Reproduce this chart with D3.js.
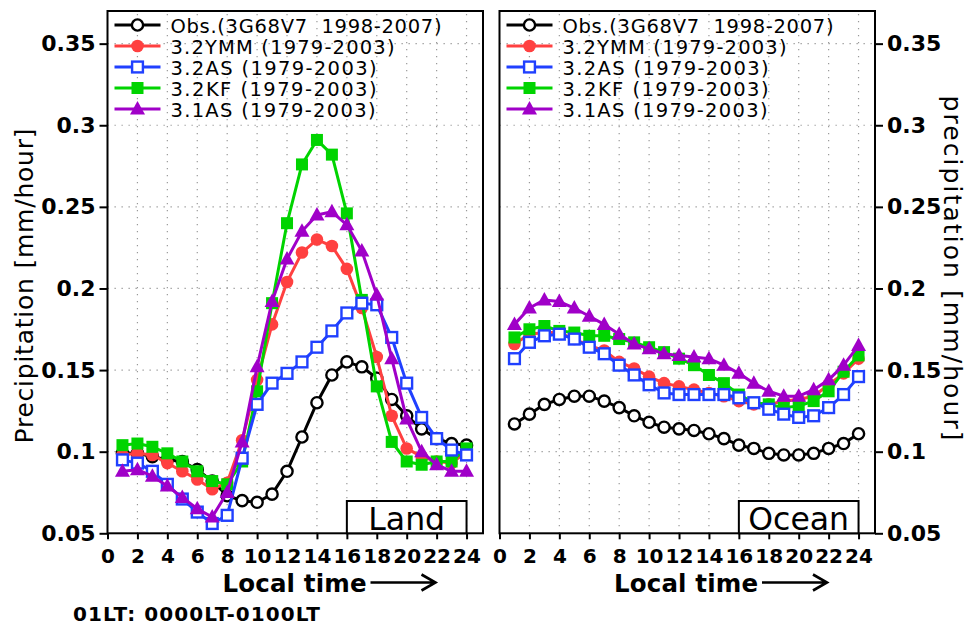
<!DOCTYPE html>
<html><head><meta charset="utf-8">
<script src="https://cdn.jsdelivr.net/npm/d3@7"></script>
<style>body{margin:0;background:#fff}svg{display:block}</style>
</head><body>
<svg id="c" width="969" height="626"></svg>
<script>
// ---------- data ----------
const hours = [1,2,3,4,5,6,7,8,9,10,11,12,13,14,15,16,17,18,19,20,21,22,23,24];
const xTicks = [0,2,4,6,8,10,12,14,16,18,20,22,24];
const yTicks = [0.05,0.1,0.15,0.2,0.25,0.3,0.35];
const yTickLabels = ["0.05","0.1","0.15","0.2","0.25","0.3","0.35"];
const seriesNames = ["Obs.(3G68V7  1998-2007)","3.2YMM (1979-2003)","3.2AS (1979-2003)","3.2KF (1979-2003)","3.1AS (1979-2003)"];
const panelNames = ["Land","Ocean"];

const landObs   = [0.099,0.099,0.097,0.095,0.094,0.089,0.082,0.073,0.070,0.069,0.074,0.088,0.109,0.130,0.147,0.155,0.152,0.145,0.132,0.122,0.114,0.108,0.105,0.104];
const landYMM   = [0.098,0.099,0.098,0.093,0.088,0.083,0.077,0.081,0.107,0.144,0.178,0.204,0.222,0.230,0.226,0.212,0.188,0.158,0.122,0.102,0.097,0.094,0.093,0.100];
const land32AS  = [0.095,0.093,0.088,0.080,0.071,0.063,0.056,0.061,0.096,0.129,0.142,0.148,0.155,0.164,0.174,0.185,0.191,0.190,0.170,0.142,0.121,0.108,0.101,0.098];
const land32KF  = [0.104,0.105,0.103,0.099,0.094,0.088,0.082,0.080,0.094,0.137,0.191,0.240,0.276,0.291,0.282,0.246,0.193,0.140,0.106,0.094,0.092,0.094,0.094,0.102];
const land31AS  = [0.088,0.089,0.085,0.079,0.072,0.065,0.060,0.075,0.106,0.152,0.192,0.218,0.235,0.245,0.247,0.239,0.223,0.196,0.157,0.120,0.100,0.092,0.088,0.088];

const oceanObs  = [0.117,0.123,0.129,0.132,0.134,0.134,0.131,0.127,0.122,0.118,0.115,0.114,0.113,0.111,0.108,0.104,0.102,0.099,0.098,0.098,0.099,0.102,0.105,0.111];
const oceanYMM  = [0.166,0.172,0.173,0.173,0.169,0.165,0.162,0.155,0.151,0.146,0.142,0.140,0.138,0.136,0.134,0.131,0.129,0.129,0.131,0.132,0.134,0.141,0.148,0.157];
const ocean32AS = [0.157,0.167,0.171,0.172,0.169,0.164,0.160,0.153,0.147,0.141,0.136,0.135,0.135,0.135,0.135,0.133,0.130,0.126,0.123,0.121,0.122,0.127,0.135,0.146];
const ocean32KF = [0.170,0.175,0.177,0.174,0.173,0.171,0.171,0.169,0.167,0.164,0.161,0.157,0.153,0.147,0.142,0.135,0.130,0.129,0.127,0.128,0.131,0.137,0.149,0.159];
const ocean31AS = [0.178,0.188,0.193,0.192,0.188,0.183,0.178,0.172,0.166,0.163,0.160,0.159,0.158,0.157,0.153,0.148,0.142,0.137,0.134,0.134,0.138,0.144,0.153,0.165];

// ---------- styles ----------
const styles = [
  {color:"#000000", shape:"circle", filled:false},
  {color:"#ff4040", shape:"circle", filled:true},
  {color:"#2040ff", shape:"square", filled:false},
  {color:"#00d400", shape:"square", filled:true},
  {color:"#a000c8", shape:"triangle", filled:true}
];
const drawOrder = [0,1,3,2,4];
const FONT = "'DejaVu Sans', sans-serif";

const svg = d3.select("#c");
const yTop = 11, yBot = 533.3;
const y = d3.scaleLinear().domain([0.05,0.37]).range([yBot,yTop]);

function marker(g, cx, cy, st) {
  if (st.shape === "circle") {
    g.append("circle").attr("cx",cx).attr("cy",cy).attr("r",st.filled?6.3:5.6)
      .attr("fill",st.filled?st.color:"#fff").attr("stroke",st.color).attr("stroke-width",st.filled?0:2.4);
  } else if (st.shape === "square") {
    const s = st.filled?12:10.8;
    g.append("rect").attr("x",cx-s/2).attr("y",cy-s/2).attr("width",s).attr("height",s)
      .attr("fill",st.filled?st.color:"#fff").attr("stroke",st.color).attr("stroke-width",st.filled?0:2.4);
  } else {
    g.append("path").attr("d",`M${cx},${cy-8}L${cx+7.5},${cy+5.5}L${cx-7.5},${cy+5.5}Z`).attr("fill",st.color);
  }
}

function drawPanel(p) {
  const x = d3.scaleLinear().domain([0,25.1]).range([p.left,p.right]);
  const g = svg.append("g");
  // grid
  const grid = g.append("g").attr("stroke","#999").attr("stroke-width",1.2).attr("stroke-dasharray","1.3,5.7");
  xTicks.filter(t=>t>0).forEach(t=>{
    grid.append("line").attr("x1",x(t)).attr("x2",x(t)).attr("y1",yBot).attr("y2",yTop);
  });
  yTicks.filter(t=>t>0.05).forEach(t=>{
    grid.append("line").attr("x1",p.left).attr("x2",p.right).attr("y1",y(t)).attr("y2",y(t));
  });
  // series
  drawOrder.forEach(i=>{
    const vals = p.series[i], st = styles[i];
    const line = d3.line().x((d,k)=>x(hours[k])).y(d=>y(d));
    g.append("path").attr("d",line(vals)).attr("fill","none").attr("stroke",st.color).attr("stroke-width",3).attr("stroke-linejoin","round");
    const mg = g.append("g");
    vals.forEach((v,k)=>marker(mg, x(hours[k]), y(v), st));
  });
  // frame
  g.append("rect").attr("x",p.left).attr("y",yTop).attr("width",p.right-p.left).attr("height",yBot-yTop)
    .attr("fill","none").attr("stroke","#000").attr("stroke-width",2);
  // bottom axis
  const xa = g.append("g").attr("transform",`translate(0,${yBot})`)
    .call(d3.axisBottom(x).tickValues(xTicks).tickFormat(d3.format("d")).tickSize(6).tickPadding(10));
  xa.select(".domain").remove();
  xa.selectAll("line").attr("stroke-width",2);
  xa.selectAll("text").attr("font-family",FONT).attr("font-weight","bold").attr("font-size",20).attr("fill","#000");
  // y axis
  const yAxis = p.side==="left" ? d3.axisLeft(y) : d3.axisRight(y);
  const ya = g.append("g").attr("transform",`translate(${p.side==="left"?p.left:p.right},0)`)
    .call(yAxis.tickValues(yTicks).tickFormat((d,i)=>yTickLabels[i]).tickSize(8).tickPadding(4));
  ya.select(".domain").remove();
  ya.selectAll("line").attr("stroke-width",2);
  ya.selectAll("text").attr("font-family",FONT).attr("font-weight","bold").attr("font-size",22).attr("fill","#000");
  // legend
  const lg = g.append("g");
  seriesNames.forEach((name,i)=>{
    const ry = 25 + i*21;
    lg.append("line").attr("x1",p.left+7).attr("x2",p.left+53).attr("y1",ry).attr("y2",ry)
      .attr("stroke",styles[i].color).attr("stroke-width",3);
    marker(lg, p.left+30, ry, styles[i]);
    lg.append("text").attr("x",p.left+63).attr("y",ry+7.5).text(name)
      .attr("style","white-space:pre")
      .attr("font-family",FONT).attr("font-size",19.5).attr("fill","#000")
      .attr("textLength",[271,224,206,206,205][i]).attr("lengthAdjust","spacing");
  });
  // region box
  const bx0 = x(p.boxFrom), bx1 = x(24);
  g.append("rect").attr("x",bx0).attr("y",501).attr("width",bx1-bx0).attr("height",yBot-501)
    .attr("fill","#fff").attr("stroke","#000").attr("stroke-width",2);
  g.append("text").attr("x",(bx0+bx1)/2).attr("y",529.5).attr("text-anchor","middle").text(p.name)
    .attr("font-family",FONT).attr("font-size",31.5).attr("fill","#000");
  // x label with arrow
  g.append("text").attr("x",p.labelX).attr("y",592).text("Local time")
    .attr("font-family",FONT).attr("font-weight","bold").attr("font-size",24.5).attr("fill","#000")
    .attr("textLength",144).attr("lengthAdjust","spacing");
  const ax0 = p.labelX+148, ax1 = p.labelX+213, ay = 582.5;
  g.append("path").attr("d",`M${ax0},${ay}L${ax1},${ay}M${ax1-14},${ay-8}L${ax1},${ay}L${ax1-14},${ay+8}`)
    .attr("fill","none").attr("stroke","#000").attr("stroke-width",2.6);
}

drawPanel({left:107.5, right:483, side:"left", name:panelNames[0], boxFrom:16, labelX:222.5,
  series:[landObs,landYMM,land32AS,land32KF,land31AS]});
drawPanel({left:499.5, right:875, side:"right", name:panelNames[1], boxFrom:16, labelX:614,
  series:[oceanObs,oceanYMM,ocean32AS,ocean32KF,ocean31AS]});

// axis titles
svg.append("text").attr("transform","translate(33,286) rotate(-90)").attr("text-anchor","middle")
  .text("Precipitation [mm/hour]").attr("font-family",FONT).attr("font-size",25).attr("fill","#000")
  .attr("textLength",315).attr("lengthAdjust","spacing");
svg.append("text").attr("transform","translate(944,268) rotate(90)").attr("text-anchor","middle")
  .text("precipitation [mm/hour]").attr("font-family",FONT).attr("font-size",25).attr("fill","#000")
  .attr("textLength",345).attr("lengthAdjust","spacing");
svg.append("text").attr("x",73).attr("y",621).text("01LT: 0000LT-0100LT")
  .attr("font-family",FONT).attr("font-weight","bold").attr("font-size",20).attr("fill","#000")
  .attr("textLength",247).attr("lengthAdjust","spacing");
</script>
</body></html>
